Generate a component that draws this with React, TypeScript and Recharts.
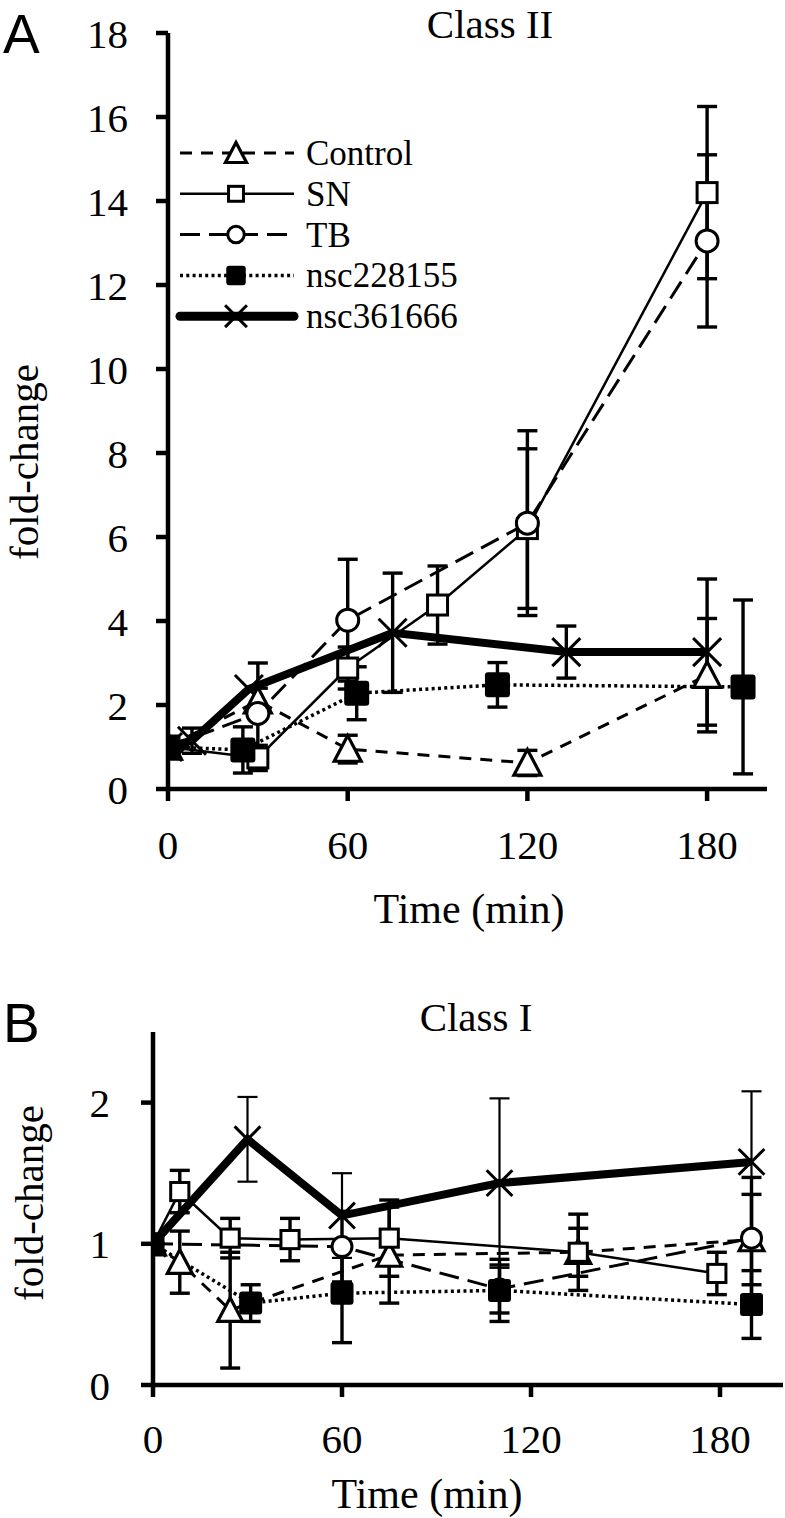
import React from "react";
import { LineChart, Line, XAxis, YAxis, ErrorBar, Legend, Label } from "recharts";

const SERIF = '"Liberation Serif", "Times New Roman", serif';
const SANS = '"Liberation Sans", Arial, sans-serif';

// shared axis ticks
const timeTicks = [0, 60, 120, 180];
const yTicksA = [0, 2, 4, 6, 8, 10, 12, 14, 16, 18];
const yTicksB = [0, 1, 2];
const seriesNames = ["Control", "SN", "TB", "nsc228155", "nsc361666"];

// Panel A – Class II (t = min, v = fold-change, e = error)
const controlA = [
  { t: 0, v: 1.0, e: null },
  { t: 30, v: 2.1, e: 0.3 },
  { t: 60, v: 0.95, e: 0.33 },
  { t: 120, v: 0.62, e: 0.3 },
  { t: 180, v: 2.71, e: 1.35 },
];
const snA = [
  { t: 0, v: 1.0, e: null },
  { t: 30, v: 0.74, e: 0.3 },
  { t: 60, v: 2.88, e: 0.5 },
  { t: 90, v: 4.38, e: 0.93 },
  { t: 120, v: 6.2, e: 1.9 },
  { t: 180, v: 14.2, e: 2.05 },
];
const tbA = [
  { t: 0, v: 1.0, e: null },
  { t: 30, v: 1.8, e: 1.2 },
  { t: 60, v: 4.02, e: 1.45 },
  { t: 120, v: 6.33, e: 2.2 },
  { t: 180, v: 13.05, e: 2.05 },
];
const nsc228155A = [
  { t: 0, v: 1.0, e: null },
  { t: 25, v: 0.93, e: 0.55 },
  { t: 63, v: 2.28, e: 0.63 },
  { t: 110, v: 2.48, e: 0.53 },
  { t: 192, v: 2.43, e: 2.07 },
];
const nsc361666A = [
  { t: 0, v: 1.0, e: null },
  { t: 8, v: 1.15, e: 0.3 },
  { t: 27, v: 2.38, e: null },
  { t: 75, v: 3.72, e: 1.42 },
  { t: 133, v: 3.26, e: 0.62 },
  { t: 180, v: 3.26, e: 1.74 },
];

// Panel B – Class I
const controlB = [
  { t: 0, v: 1.0, e: null },
  { t: 8.5, v: 0.87, e: 0.22 },
  { t: 24.5, v: 0.53, e: 0.41 },
  { t: 75, v: 0.92, e: 0.34 },
  { t: 135, v: 0.94, e: 0.27 },
  { t: 190, v: 1.03, e: 0.32 },
];
const snB = [
  { t: 0, v: 1.0, e: null },
  { t: 8.5, v: 1.37, e: 0.15 },
  { t: 24.5, v: 1.04, e: 0.14 },
  { t: 43.5, v: 1.03, e: 0.15 },
  { t: 75, v: 1.04, e: 0.27 },
  { t: 135, v: 0.94, e: 0.17 },
  { t: 179, v: 0.79, e: 0.15 },
];
const tbB = [
  { t: 0, v: 1.0, e: null },
  { t: 60, v: 0.98, e: 0.25 },
  { t: 110, v: 0.68, e: 0.17 },
  { t: 190, v: 1.04, e: 0.43 },
];
const nsc228155B = [
  { t: 0, v: 1.0, e: null },
  { t: 31, v: 0.58, e: 0.13 },
  { t: 60, v: 0.65, e: 0.35 },
  { t: 110, v: 0.67, e: 0.22 },
  { t: 190, v: 0.57, e: 0.24 },
];
const nsc361666B = [
  { t: 0, v: 1.0, e: null },
  { t: 30, v: 1.74, e: 0.3 },
  { t: 60, v: 1.2, e: 0.3 },
  { t: 110, v: 1.43, e: 0.6 },
  { t: 190, v: 1.58, e: 0.5 },
];

type Pt = { t: number; v: number; e: number | null };
type Shape = "triangle" | "square" | "circle" | "filled" | "cross";

const styles: Record<string, { shape: Shape; dash?: string; width: number }> = {
  Control: { shape: "triangle", dash: "12 9", width: 3 },
  SN: { shape: "square", width: 2.5 },
  TB: { shape: "circle", dash: "20 9", width: 3 },
  nsc228155: { shape: "filled", dash: "3 3.3", width: 3.5 },
  nsc361666: { shape: "cross", width: 8 },
};

// draw order: filled squares last so they sit on top at t = 0
const drawOrder = ["nsc361666", "Control", "SN", "TB", "nsc228155"];

const panelA: Record<string, Pt[]> = {
  Control: controlA,
  SN: snA,
  TB: tbA,
  nsc228155: nsc228155A,
  nsc361666: nsc361666A,
};
const panelB: Record<string, Pt[]> = {
  Control: controlB,
  SN: snB,
  TB: tbB,
  nsc228155: nsc228155B,
  nsc361666: nsc361666B,
};

function Marker({ shape, cx, cy, size }: { shape: Shape; cx: number; cy: number; size: number }) {
  const h = size / 2;
  if (cx == null || cy == null) return <g />;
  switch (shape) {
    case "triangle":
      return (
        <polygon
          points={`${cx},${cy - h} ${cx - h},${cy + h * 0.9} ${cx + h},${cy + h * 0.9}`}
          fill="#fff"
          stroke="#000"
          strokeWidth={3.2}
        />
      );
    case "square":
      return <rect x={cx - h + 1.5} y={cy - h + 1.5} width={size - 3} height={size - 3} fill="#fff" stroke="#000" strokeWidth={3} />;
    case "circle":
      return <circle cx={cx} cy={cy} r={h - 1.5} fill="#fff" stroke="#000" strokeWidth={3} />;
    case "filled":
      return <rect x={cx - h} y={cy - h} width={size} height={size} rx={3} fill="#000" />;
    default:
      return (
        <g stroke="#000" strokeWidth={3}>
          <line x1={cx - h} y1={cy - h} x2={cx + h} y2={cy + h} />
          <line x1={cx - h} y1={cy + h} x2={cx + h} y2={cy - h} />
        </g>
      );
  }
}

const markerSize: Record<Shape, number> = { triangle: 27, square: 23, circle: 25, filled: 25, cross: 28 };

function renderSeries(panel: Record<string, Pt[]>, scale: number, id: string) {
  return drawOrder.map((name) => {
    const st = styles[name];
    const size = markerSize[st.shape] * scale;
    return (
      <Line
        key={id + name}
        data={panel[name]}
        dataKey="v"
        name={name}
        type="linear"
        stroke="#000"
        strokeWidth={st.width}
        strokeDasharray={st.dash}
        activeDot={false}
        isAnimationActive={false}
        dot={(p: any) => (
          <Marker key={`${id}-${name}-${p.index}`} shape={st.shape} cx={p.cx} cy={p.cy} size={size} />
        )}
      >
        <ErrorBar
          dataKey="e"
          direction="y"
          width={10}
          stroke="#000"
          strokeWidth={id === "B" && name === "nsc361666" ? 2.2 : 3.4}
          isAnimationActive={false}
        />
      </Line>
    );
  });
}

const LegendBox = () => (
  <svg width={320} height={215}>
    {seriesNames.map((name, i) => {
      const st = styles[name];
      const y = 28 + i * 40.8;
      const thick = name === "nsc361666";
      return (
        <g key={name}>
          <line
            x1={12}
            x2={126}
            y1={y}
            y2={y}
            stroke="#000"
            strokeWidth={thick ? 9 : st.width}
            strokeDasharray={st.dash}
            strokeLinecap={thick ? "round" : "butt"}
          />
          <Marker shape={st.shape} cx={68} cy={y} size={markerSize[st.shape] * 0.78} />
          <text x={138} y={y + 12} fontSize={35} fontFamily={SERIF} fill="#000">
            {name}
          </text>
        </g>
      );
    })}
  </svg>
);

const axisStroke = { stroke: "#000", strokeWidth: 4.5 };
const tickFont = { fill: "#000", fontSize: 41, fontFamily: SERIF };

const yTitle = (x: number, y: number) => () =>
  (
    <text x={x} y={y} transform={`rotate(-90 ${x} ${y})`} textAnchor="middle" fontSize={41} fontFamily={SERIF} fill="#000">
      fold-change
    </text>
  );

const xTitle = (x: number, y: number) => () =>
  (
    <text x={x} y={y} textAnchor="middle" fontSize={42} fontFamily={SERIF} fill="#000">
      Time (min)
    </text>
  );

export default function App() {
  return (
    <div style={{ position: "absolute", left: 0, top: 0, width: 785, height: 1518, background: "#fff", overflow: "hidden" }}>
      <div style={{ position: "absolute", left: 0, top: 0 }}>
        <LineChart width={785} height={960} margin={{ top: 33, right: 18, bottom: 31, left: 0 }}>
          <XAxis
            dataKey="t"
            type="number"
            domain={[0, 200]}
            ticks={timeTicks}
            interval={0}
            allowDataOverflow
            height={140}
            tickSize={12}
            tickMargin={29}
            axisLine={axisStroke}
            tickLine={axisStroke}
            tick={tickFont}
          >
            <Label content={xTitle(469, 923)} />
          </XAxis>
          <YAxis
            type="number"
            domain={[0, 18]}
            ticks={yTicksA}
            interval={0}
            width={168}
            tickSize={12}
            tickMargin={28}
            axisLine={axisStroke}
            tickLine={axisStroke}
            tick={tickFont}
          >
            <Label content={yTitle(38, 462)} />
          </YAxis>
          <Legend
            layout="vertical"
            align="center"
            verticalAlign="middle"
            width={320}
            height={215}
            wrapperStyle={{ left: 168, top: 125 }}
            content={() => <LegendBox />}
          />
          {renderSeries(panelA, 1, "A")}
        </LineChart>
      </div>
      <div style={{ position: "absolute", left: 0, top: 960 }}>
        <LineChart width={785} height={558} margin={{ top: 72, right: 2, bottom: 13, left: 0 }}>
          <XAxis
            dataKey="t"
            type="number"
            domain={[0, 200]}
            ticks={timeTicks}
            interval={0}
            allowDataOverflow
            height={120}
            tickSize={12}
            tickMargin={27}
            axisLine={axisStroke}
            tickLine={axisStroke}
            tick={tickFont}
          >
            <Label content={xTitle(427, 548)} />
          </XAxis>
          <YAxis
            type="number"
            domain={[0, 2.5]}
            ticks={yTicksB}
            interval={0}
            width={153}
            tickSize={12}
            tickMargin={31}
            axisLine={axisStroke}
            tickLine={axisStroke}
            tick={tickFont}
          >
            <Label content={yTitle(43, 243)} />
          </YAxis>
          {renderSeries(panelB, 0.92, "B")}
        </LineChart>
      </div>
      <svg width={785} height={1518} style={{ position: "absolute", left: 0, top: 0, pointerEvents: "none" }}>
        <text x={3} y={53} fontSize={55} fontFamily={SANS} fill="#000">A</text>
        <text x={490} y={38} textAnchor="middle" fontSize={41} fontFamily={SERIF} fill="#000">Class II</text>
        <text x={3} y={1042} fontSize={55} fontFamily={SANS} fill="#000">B</text>
        <text x={476} y={1031} textAnchor="middle" fontSize={41} fontFamily={SERIF} fill="#000">Class I</text>
      </svg>
    </div>
  );
}
